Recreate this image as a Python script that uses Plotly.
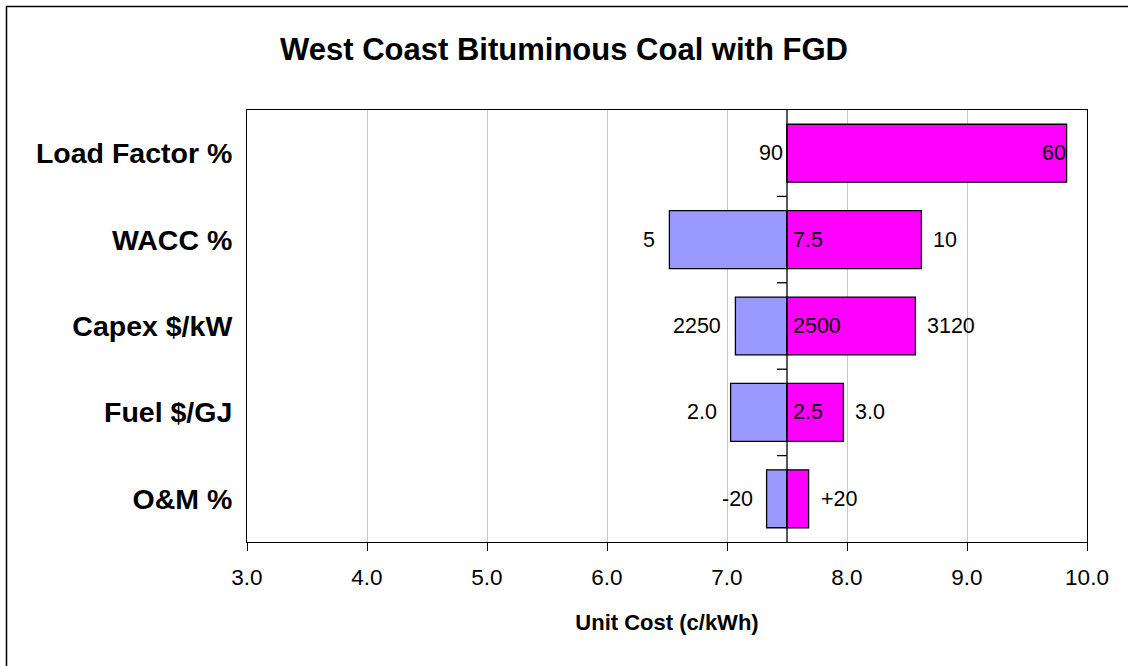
import plotly.graph_objects as go

# Sensitivity of unit generation cost to each input, around the base case
categories = ["Load Factor %", "WACC %", "Capex $/kW", "Fuel $/GJ", "O&M %"]
base_cost = 7.5
low_cost = [7.5, 6.52, 7.07, 7.03, 7.33]     # c/kWh at the favourable input value
high_cost = [9.83, 8.62, 8.57, 7.97, 7.68]   # c/kWh at the unfavourable input value
low_labels = ["", "5", "2250", "2.0", "-20"]
base_labels = ["90", "7.5", "2500", "2.5", ""]
high_labels = ["60", "10", "3120", "3.0", "+20"]
x_ticks = [3.0, 4.0, 5.0, 6.0, 7.0, 8.0, 9.0, 10.0]

FONT = "Arial, 'Liberation Sans', sans-serif"
BLUE = "#9999FF"
MAGENTA = "#FF00FF"
W, H = 1128, 666
ML, MR, MT, MB = 247, 41, 110, 124

fig = go.Figure()

fig.add_trace(go.Bar(
    y=categories,
    x=[base_cost - v for v in low_cost],
    base=low_cost,
    orientation="h",
    marker=dict(color=BLUE, line=dict(color="black", width=1.3)),
    hoverinfo="skip",
    showlegend=False,
))
fig.add_trace(go.Bar(
    y=categories,
    x=[v - base_cost for v in high_cost],
    base=[base_cost] * len(categories),
    orientation="h",
    marker=dict(color=MAGENTA, line=dict(color="black", width=1.3)),
    hoverinfo="skip",
    showlegend=False,
))

x_max = x_ticks[-1]
label_font = dict(family=FONT, size=21.5, color="black")
annotations = []
for cat, lo, hi, lt, bt, ht in zip(categories, low_cost, high_cost,
                                   low_labels, base_labels, high_labels):
    if lt:
        annotations.append(dict(x=lo, y=cat, text=lt, xanchor="right",
                                xshift=-12, showarrow=False, font=label_font))
    if bt:
        if lo >= base_cost:
            annotations.append(dict(x=base_cost, y=cat, text=bt, xanchor="right",
                                    xshift=-2, showarrow=False, font=label_font))
        else:
            annotations.append(dict(x=base_cost, y=cat, text=bt, xanchor="left",
                                    xshift=4, showarrow=False, font=label_font))
    if ht:
        if hi > x_max - 0.5:
            annotations.append(dict(x=hi, y=cat, text=ht, xanchor="right",
                                    xshift=1, showarrow=False, font=label_font))
        else:
            annotations.append(dict(x=hi, y=cat, text=ht, xanchor="left",
                                    xshift=10, showarrow=False, font=label_font))

shapes = [
    # vertical axis line through the base case
    dict(type="line", xref="x", yref="y domain", x0=base_cost, x1=base_cost,
         y0=0, y1=1, line=dict(color="black", width=1.3), layer="above"),
]
# category tick marks on the base-case line
for i in range(len(categories) - 1):
    shapes.append(dict(type="line", xref="x", yref="y", xsizemode="pixel",
                       xanchor=base_cost, x0=-10, x1=0, y0=i + 0.5, y1=i + 0.5,
                       line=dict(color="black", width=1.3), layer="above"))
# chart frame
px = lambda v: (v - ML) / (W - ML - MR)
py = lambda v: 1 - (v - MT) / (H - MT - MB)
shapes.append(dict(type="rect", xref="paper", yref="paper",
                   x0=px(6.5), x1=px(W + 20), y0=py(6.5), y1=py(H + 20),
                   line=dict(color="black", width=1.5), fillcolor="rgba(0,0,0,0)"))

fig.update_layout(
    width=W, height=H,
    margin=dict(l=ML, r=MR, t=MT, b=MB),
    paper_bgcolor="white", plot_bgcolor="white",
    barmode="overlay", bargap=0.33,
    font=dict(family=FONT, color="black"),
    title=dict(text="<b>West Coast Bituminous Coal with FGD</b>",
               x=0.5, xref="paper", xanchor="center",
               y=1 - 49 / H, yanchor="middle",
               font=dict(family=FONT, size=31, color="black")),
    annotations=annotations,
    shapes=shapes,
)
fig.update_layout(title_xref="container")

fig.update_xaxes(
    range=[x_ticks[0], x_ticks[-1]],
    tickvals=x_ticks, ticktext=[f"{v:.1f}" for v in x_ticks],
    ticks="outside", ticklen=8, tickcolor="black", tickwidth=1,
    ticklabelstandoff=7,
    showline=True, linecolor="black", linewidth=1, mirror=True,
    showgrid=True, gridcolor="#c8c8c8", gridwidth=1, zeroline=False,
    tickfont=dict(family=FONT, size=22.5, color="black"),
    title=dict(text="<b>Unit Cost (c/kWh)</b>", standoff=25,
               font=dict(family=FONT, size=22, color="black")),
)
fig.update_yaxes(
    categoryorder="array", categoryarray=categories, autorange="reversed",
    showline=True, linecolor="black", linewidth=1, mirror=True,
    showgrid=False, zeroline=False, ticks="",
    ticklabelstandoff=8,
    tickfont=dict(family=FONT, size=28.5, color="black"),
    tickprefix="<b>", ticksuffix="</b>",
)

fig.write_html("out.html")
